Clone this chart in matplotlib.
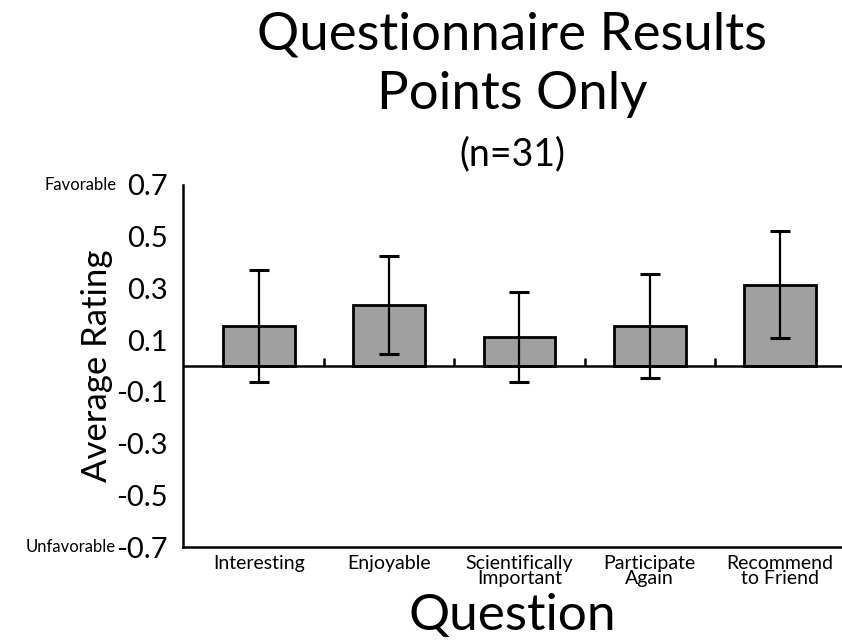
import numpy as np
import matplotlib
matplotlib.use("Agg")
import matplotlib.pyplot as plt
import matplotlib.transforms as mtransforms

plt.rcParams['font.family'] = ['Lato', 'DejaVu Sans']

questions = ["Interesting", "Enjoyable", "Scientifically\nImportant",
             "Participate\nAgain", "Recommend\nto Friend"]
avg_rating = [0.155, 0.235, 0.113, 0.155, 0.315]
err = [0.215, 0.19, 0.175, 0.2, 0.207]
yticks = [0.7, 0.5, 0.3, 0.1, -0.1, -0.3, -0.5, -0.7]

fig = plt.figure(figsize=(8.42, 6.41), dpi=100)
ax = fig.add_axes([0.2173, 0.1466, 0.7827, 0.5648])

x = np.arange(len(questions))
ax.bar(x, avg_rating, width=0.55, color="#a0a0a0", edgecolor="black", linewidth=2,
       yerr=err, capsize=7, error_kw=dict(elinewidth=1.6, capthick=2.2, ecolor="black"))

ax.axhline(0, color="black", lw=1.8)
# little ticks between categories on the zero line
ax.vlines(x[:-1] + 0.5, 0, 0.03, color="black", lw=1.8)

ax.set_xlim(-0.583, 4.476)
ax.set_ylim(-0.7, 0.7)
ax.set_yticks(yticks)
ax.set_yticklabels([f"{v:.1f}" for v in yticks])
ax.tick_params(axis="y", length=0, pad=11, labelsize=21)
ax.set_xticks(x)
ax.set_xticklabels(questions, fontsize=14, linespacing=0.85)
ax.tick_params(axis="x", length=0, pad=6)

for s in ["top", "right"]:
    ax.spines[s].set_visible(False)
ax.spines["left"].set_linewidth(1.8)
ax.spines["bottom"].set_linewidth(1.8)

ax.set_ylabel("Average Rating", fontsize=25, labelpad=2)
ax.set_xlabel("Question", fontsize=37)
ax.xaxis.set_label_coords(0.5, -0.128)

trans = mtransforms.blended_transform_factory(fig.transFigure, ax.transData)
ax.text(0.138, 0.7, "Favorable", transform=trans, ha="right", va="center", fontsize=12)
ax.text(0.138, -0.7, "Unfavorable", transform=trans, ha="right", va="center", fontsize=12)

fig.text(0.608, 0.945, "Questionnaire Results", ha="center", va="center", fontsize=38)
fig.text(0.608, 0.852, "Points Only", ha="center", va="center", fontsize=38)
fig.text(0.608, 0.76, "(n=31)", ha="center", va="center", fontsize=27)

fig.savefig("out.png", dpi=100)
